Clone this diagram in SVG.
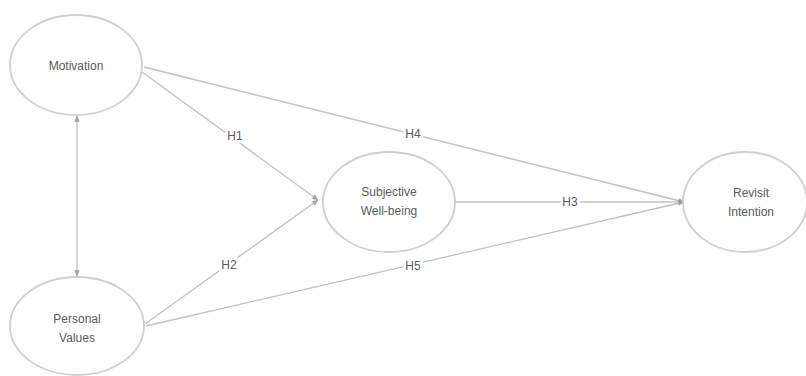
<svg xmlns="http://www.w3.org/2000/svg" width="806" height="376" viewBox="0 0 806 376">
  <defs>
    <marker id="arrow" viewBox="0 0 10 10" refX="9" refY="5" markerWidth="5" markerHeight="5" orient="auto-start-reverse">
      <path d="M0,1 L10,5 L0,9 z" fill="#a0a0a0"/>
    </marker>
  </defs>
  <style>
    .node ellipse { fill: #ffffff; stroke: #cfcfcf; stroke-width: 1.8; }
    .node text { font-family: "Liberation Sans", Arial, sans-serif; font-size: 12px; fill: #5a5a5a; text-anchor: middle; }
    .edge { stroke: #c0c0c0; stroke-width: 1.3; fill: none; }
    .label { font-family: "Liberation Sans", Arial, sans-serif; font-size: 12px; fill: #5a5a5a; text-anchor: middle; stroke: #ffffff; stroke-width: 6px; paint-order: stroke; }
  </style>
  <rect width="806" height="376" fill="#ffffff"/>

  <g id="connectors">
    <line class="edge" x1="77" y1="116" x2="77" y2="276" marker-start="url(#arrow)" marker-end="url(#arrow)"/>
    <line class="edge" x1="142" y1="72" x2="318" y2="200" marker-end="url(#arrow)"/>
    <line class="edge" x1="145" y1="324" x2="318" y2="200" marker-end="url(#arrow)"/>
    <line class="edge" x1="144" y1="67" x2="684" y2="202" marker-end="url(#arrow)"/>
    <line class="edge" x1="146" y1="326" x2="684" y2="202" marker-end="url(#arrow)"/>
    <line class="edge" x1="455" y1="202" x2="684" y2="202" marker-end="url(#arrow)"/>
    <text class="label" x="235" y="140">H1</text>
    <text class="label" x="229" y="269">H2</text>
    <text class="label" x="570" y="206">H3</text>
    <text class="label" x="413" y="138">H4</text>
    <text class="label" x="413" y="270">H5</text>
  </g>

  <g id="motivation" class="node">
    <ellipse cx="76" cy="65" rx="66" ry="50"/>
    <text x="76" y="70">Motivation</text>
  </g>
  <g id="personal-values" class="node">
    <ellipse cx="77" cy="326" rx="67" ry="49"/>
    <text x="77" y="323">Personal</text>
    <text x="77" y="342">Values</text>
  </g>
  <g id="subjective-well-being" class="node">
    <ellipse cx="389" cy="202" rx="66" ry="50"/>
    <text x="389" y="196">Subjective</text>
    <text x="389" y="215">Well-being</text>
  </g>
  <g id="revisit-intention" class="node">
    <ellipse cx="745" cy="202" rx="62" ry="50"/>
    <text x="751" y="197">Revisit</text>
    <text x="751" y="216">Intention</text>
  </g>
</svg>
